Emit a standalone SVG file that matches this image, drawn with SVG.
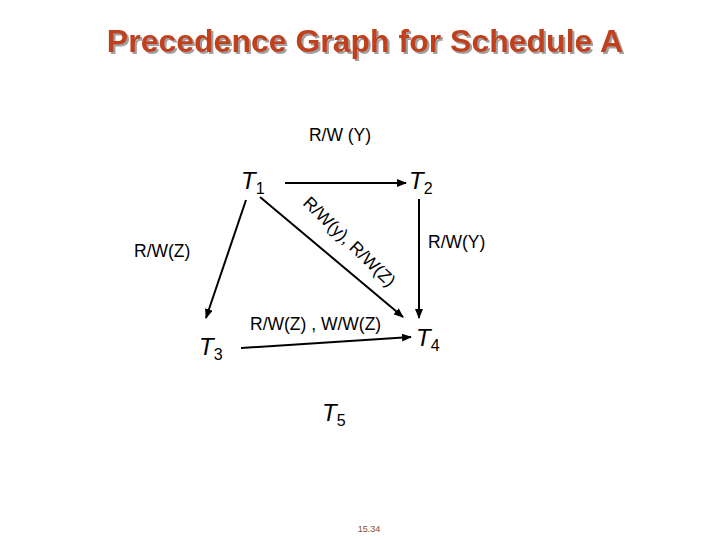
<svg xmlns="http://www.w3.org/2000/svg" width="720" height="540" viewBox="0 0 720 540">
<style>
.title{font-family:"Liberation Sans",Arial,sans-serif;font-weight:bold;font-size:32px}
.lbl{font-family:"Liberation Sans",Arial,sans-serif;font-size:17.5px;fill:#000}
.tn{font-family:"Liberation Sans",Arial,sans-serif;font-size:24px;font-style:italic;fill:#000}
.sub{font-family:"Liberation Sans",Arial,sans-serif;font-size:16px;font-style:normal}
.edge{stroke:#000;stroke-width:2;fill:none;marker-end:url(#ah)}
</style>
<defs>
<marker id="ah" markerWidth="10" markerHeight="8" refX="9" refY="4" orient="auto" markerUnits="userSpaceOnUse">
<path d="M0,0 L10,4 L0,8 z" fill="#000"/>
</marker>
<filter id="sh" x="-5%" y="-20%" width="110%" height="140%">
<feDropShadow dx="2" dy="2" stdDeviation="0.6" flood-color="#a0a0a0"/>
</filter>
</defs>
<rect width="720" height="540" fill="#fff"/>
<g id="title">
<text class="title" x="365" y="52" text-anchor="middle" fill="#c0401a" filter="url(#sh)">Precedence Graph for Schedule A</text>
</g>
<g id="connectors">
<line class="edge" x1="285" y1="183" x2="406" y2="183"/>
<line class="edge" x1="246" y1="200" x2="206" y2="318"/>
<line class="edge" x1="260" y1="197" x2="403" y2="317"/>
<line class="edge" x1="419" y1="199" x2="419" y2="318"/>
<line class="edge" x1="241" y1="348" x2="411" y2="337"/>
<text class="lbl" x="340" y="141" text-anchor="middle">R/W (Y)</text>
<text class="lbl" x="428" y="248">R/W(Y)</text>
<text class="lbl" x="134" y="257">R/W(Z)</text>
<text class="lbl" x="250" y="330">R/W(Z) , W/W(Z)</text>
<text class="lbl" font-size="19" transform="translate(302,204) rotate(44)">R/W(y), R/W(Z)</text>
</g>
<g id="T1"><text class="tn" x="241" y="189">T<tspan class="sub" dy="5">1</tspan></text></g>
<g id="T2"><text class="tn" x="409" y="189">T<tspan class="sub" dy="5">2</tspan></text></g>
<g id="T3"><text class="tn" x="199" y="355">T<tspan class="sub" dy="5">3</tspan></text></g>
<g id="T4"><text class="tn" x="416" y="346">T<tspan class="sub" dy="5">4</tspan></text></g>
<g id="T5"><text class="tn" x="322" y="421">T<tspan class="sub" dy="5">5</tspan></text></g>
<text x="369" y="532" text-anchor="middle" font-family="Liberation Sans, Arial, sans-serif" font-size="9" fill="#8b4a2a">15.34</text>
</svg>
